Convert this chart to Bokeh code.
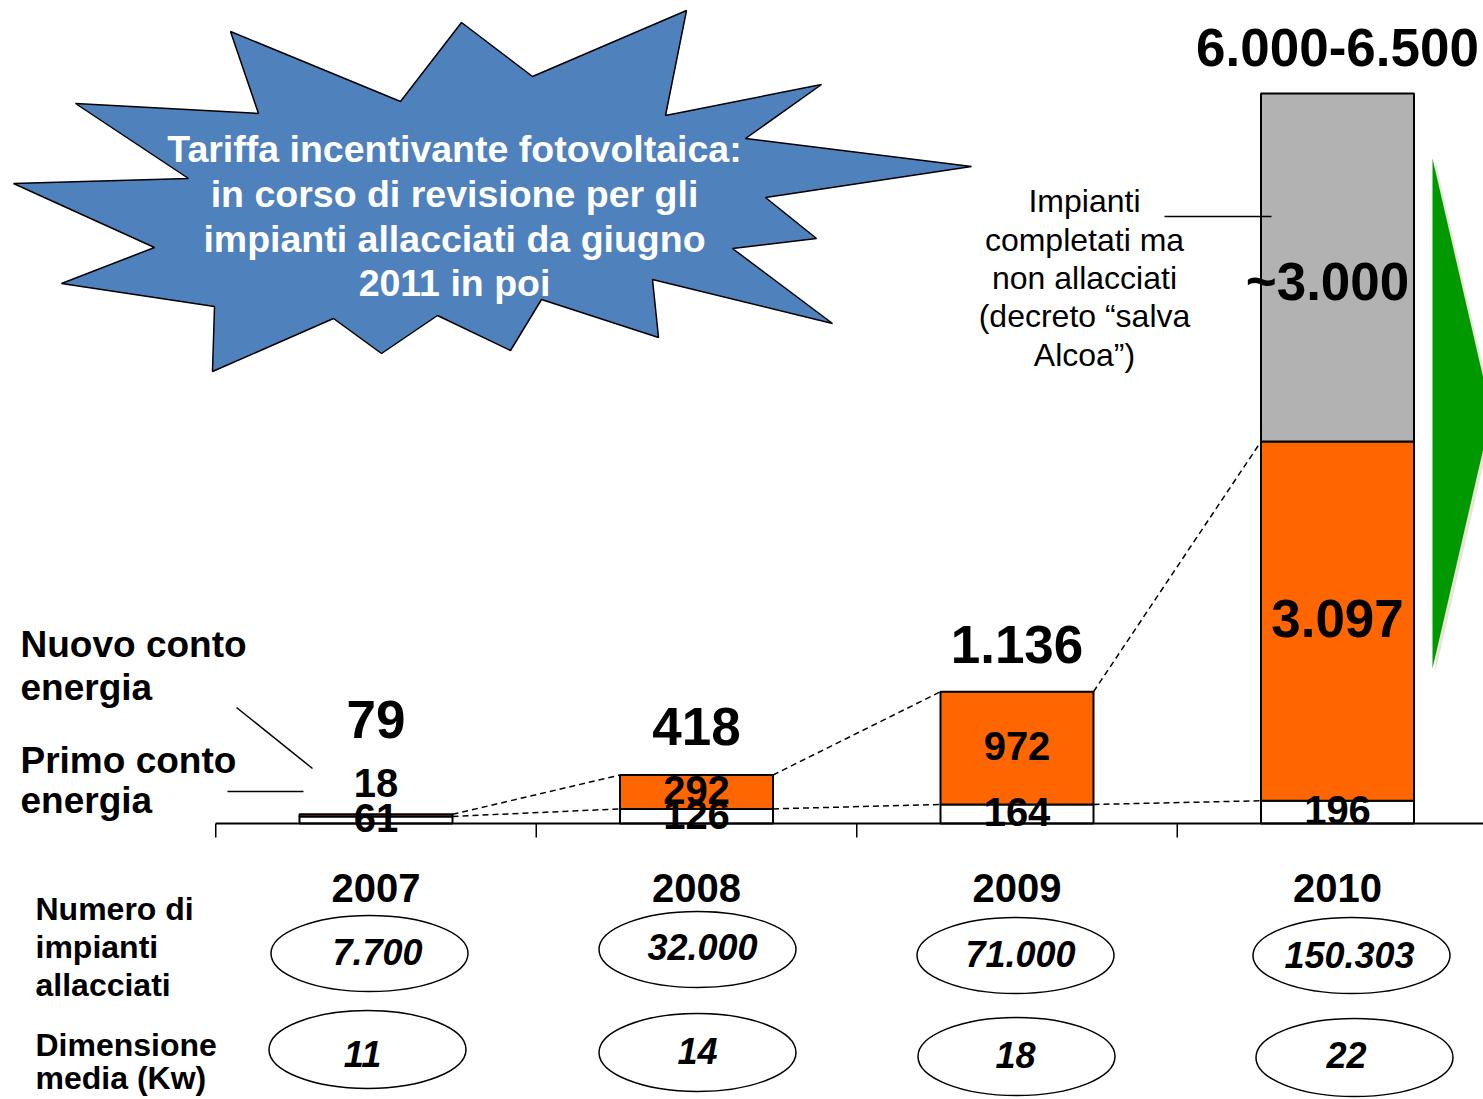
import numpy as np
from bokeh.plotting import figure
from bokeh.models import Range1d, ColumnDataSource
from bokeh.core.properties import value
from bokeh.embed import file_html
from bokeh.resources import INLINE

# ---------------- data ----------------
years = ["2007", "2008", "2009", "2010"]
primo = [61, 126, 164, 196]            # Primo conto energia
nuovo = [18, 292, 972, 3097]           # Nuovo conto energia
non_allacciati = [0, 0, 0, 3000]       # completati ma non allacciati (~3.000)
primo_labels = ["61", "126", "164", "196"]
nuovo_labels = ["18", "292", "972", "3.097"]
grey_labels = ["", "", "", "~3.000"]
total_labels = ["79", "418", "1.136", "6.000-6.500"]
numero_impianti = ["7.700", "32.000", "71.000", "150.303"]
dimensione_media = ["11", "14", "18", "22"]

# ---------------- layout constants (reference pixels) ----------------
W, H, M = 1483, 1099, 0
BASE = 823.0          # pixel row of value 0
K = 0.116             # pixels per unit
X0, DX = 375.5, 320.5 # centre of first bar, bar spacing
BAR_W = 153.0 / DX
FONT = value("Liberation Sans")
BLUE, ORANGE, GREY, GREEN = "#4F81BD", "#FF6600", "#B2B2B2", "#009900"
SHIFT = 0.4           # renderer places alphabetic baseline lower by ~0.4 em

def d(ypx):
    """reference pixel row -> data units"""
    return (BASE - ypx) / K

def tb(base_px, size):
    """desired baseline pixel row -> anchor pixel row"""
    return base_px - SHIFT * size

p = figure(width=W, height=H, output_backend="svg", toolbar_location=None,
           x_range=Range1d((M - X0) / DX, (M + W - X0) / DX),
           y_range=Range1d(d(M + H), d(M)),
           x_axis_location=None, y_axis_location=None, min_border=0)
p.extra_x_ranges = {"px": Range1d(M, M + W)}
p.extra_y_ranges = {"px": Range1d(M + H, M)}
p.grid.visible = False
p.outline_line_color = None
p.background_fill_color = "white"
p.border_fill_color = "white"

PX = dict(x_range_name="px", y_range_name="px")

# ---------------- starburst callout ----------------
star = [(230, 31), (400, 101), (461, 22), (532, 76), (686, 10), (665, 115),
        (821, 84), (745, 138), (971, 166), (765, 197), (816, 238), (732, 248),
        (832, 323), (652, 279), (658, 337), (541, 299), (510, 350), (437, 315),
        (381, 353), (333, 318), (212, 371), (214, 306), (61, 283), (154, 247),
        (13, 183), (188, 178), (75, 103), (258, 113)]
p.patch([s[0] for s in star], [s[1] for s in star], fill_color=BLUE,
        line_color="black", line_width=1.5, **PX)
star_lines = ["Tariffa incentivante fotovoltaica:", "in corso di revisione per gli",
              "impianti allacciati da giugno", "2011 in poi"]
p.text(x=[454] * 4, y=[tb(b, 37.5) for b in [163, 208, 253, 297]], text=star_lines,
       text_color="white", text_font=FONT, text_font_style="bold",
       text_font_size="37.5px", text_align="center", text_baseline="alphabetic", **PX)

# ---------------- green arrow ----------------
p.patch([1435, 1494, 1435], [161, 416, 671], fill_color="#E8E4D8", line_color=None, **PX)
p.patch([1432, 1491, 1432], [158, 413, 668], fill_color=GREEN, line_color=None, **PX)

# ---------------- bars ----------------
idx = np.arange(len(years))
src = ColumnDataSource(dict(x=idx, primo=primo, nuovo=nuovo))
p.vbar_stack(["primo", "nuovo"], x="x", width=BAR_W, source=src,
             fill_color=["white", ORANGE], line_color="black", line_width=2)
cum2 = np.array(primo) + np.array(nuovo)
has_grey = np.array(non_allacciati) > 0
gsrc = ColumnDataSource(dict(x=idx[has_grey], b=cum2[has_grey],
                             t=(cum2 + np.array(non_allacciati))[has_grey]))
p.vbar(x="x", bottom="b", top="t", width=BAR_W, source=gsrc,
       fill_color=GREY, line_color="black", line_width=2)

# dashed connectors between bars
hw = BAR_W / 2
x0s = list(idx[:-1] + hw) * 2
x1s = list(idx[1:] - hw) * 2
y0s = list(primo[:-1]) + list(cum2[:-1])
y1s = list(primo[1:]) + list(cum2[1:])
p.segment(x0=x0s, y0=y0s, x1=x1s, y1=y1s, line_color="black",
          line_width=1.5, line_dash="6 4")

# baseline and category ticks
p.segment(x0=[-0.5], y0=[0], x1=[(M + W - X0) / DX], y1=[0], line_color="black", line_width=2)
p.segment(x0=idx - 0.5, y0=[0] * 4, x1=idx - 0.5, y1=[d(BASE + 14)] * 4,
          line_color="black", line_width=1.5)

# ---------------- value labels ----------------
def cap_base(centre_px, size):
    return d(tb(centre_px + 0.358 * size, size))

p.text(x=idx, y=[cap_base(BASE - v / 2 * K, 40) for v in primo], text=primo_labels,
       text_font=FONT, text_font_style="bold", text_font_size="40px",
       text_align="center", text_baseline="alphabetic")

for i in range(len(years)):
    size = 40 if nuovo[i] < 2000 else 53
    if nuovo[i] * K < 30:
        yy = d(tb(BASE - (primo[i] + nuovo[i]) * K - 15, size))
    else:
        yy = cap_base(BASE - (primo[i] + nuovo[i] / 2) * K, size)
    p.text(x=[idx[i]], y=[yy], text=[nuovo_labels[i]], text_font=FONT,
           text_font_style="bold", text_font_size=f"{size}px", text_align="center",
           text_baseline="alphabetic")

GREY_LABEL_DX, GREY_LABEL_DY = -10 / DX, 16   # label sits a bit left of / below centre
for i in range(len(years)):
    if non_allacciati[i] > 0:
        p.text(x=[idx[i] + GREY_LABEL_DX],
               y=[cap_base(BASE - (cum2[i] + non_allacciati[i] / 2) * K + GREY_LABEL_DY, 53)],
               text=[grey_labels[i]], text_font=FONT, text_font_style="bold",
               text_font_size="53px", text_align="center", text_baseline="alphabetic")

totals = cum2 + np.array(non_allacciati)
total_gap_px = [74, 27, 26, 25]
p.text(x=idx, y=[d(tb(BASE - t * K - g, 53)) for t, g in zip(totals, total_gap_px)],
       text=total_labels, text_font=FONT, text_font_style="bold",
       text_font_size="53px", text_align="center", text_baseline="alphabetic")

# year labels
p.text(x=idx, y=[d(tb(903, 40))] * 4, text=years, text_font=FONT, text_font_style="bold",
       text_font_size="40px", text_align="center", text_baseline="alphabetic")

# ---------------- ellipses with figures ----------------
ell1_x, ell1_y = [369, 697, 1015, 1351], [953, 949, 955, 955]
ell2_x, ell2_y = [367, 697, 1016, 1354], [1049, 1052, 1056, 1057]
p.ellipse(x=ell1_x, y=ell1_y, width=197, height=76, fill_color=None,
          line_color="black", line_width=1.5, **PX)
p.ellipse(x=ell2_x, y=ell2_y, width=197, height=78, fill_color=None,
          line_color="black", line_width=1.5, **PX)
t1_x, t1_y = [377, 702, 1020, 1349], [953, 948, 955, 956]
t2_x, t2_y = [362, 697, 1015, 1346], [1055, 1052, 1056, 1056]
p.text(x=t1_x, y=[tb(y + 13, 36) for y in t1_y], text=numero_impianti, text_font=FONT,
       text_font_style="bold italic", text_font_size="36px", text_align="center",
       text_baseline="alphabetic", **PX)
p.text(x=t2_x, y=[tb(y + 13, 36) for y in t2_y], text=dimensione_media, text_font=FONT,
       text_font_style="bold italic", text_font_size="36px", text_align="center",
       text_baseline="alphabetic", **PX)

# ---------------- side labels ----------------
p.text(x=[20, 20, 20, 20], y=[tb(b, 37) for b in [659, 702, 775, 815]],
       text=["Nuovo conto", "energia", "Primo conto", "energia"], text_font=FONT,
       text_font_style="bold", text_font_size="37px", text_align="left",
       text_baseline="alphabetic", **PX)
p.segment(x0=[236, 227], y0=[707, 791], x1=[312, 303], y1=[768, 791],
          line_color="black", line_width=1.5, **PX)

p.text(x=[35] * 5, y=[tb(b, 32) for b in [921, 959, 997, 1057, 1090]],
       text=["Numero di", "impianti", "allacciati", "Dimensione", "media (Kw)"],
       text_font=FONT, text_font_style="bold", text_font_size="32px",
       text_align="left", text_baseline="alphabetic", **PX)

p.text(x=[1084] * 5, y=[tb(b, 32) for b in [213, 252, 290, 328, 367]],
       text=["Impianti", "completati ma", "non allacciati", "(decreto \u201csalva", "Alcoa\u201d)"],
       text_font=FONT, text_font_style="normal", text_font_size="32px",
       text_align="center", text_baseline="alphabetic", **PX)
p.segment(x0=[1164], y0=[216], x1=[1271], y1=[216], line_color="black",
          line_width=1.5, **PX)

open("out.html", "w").write(file_html(p, INLINE))
